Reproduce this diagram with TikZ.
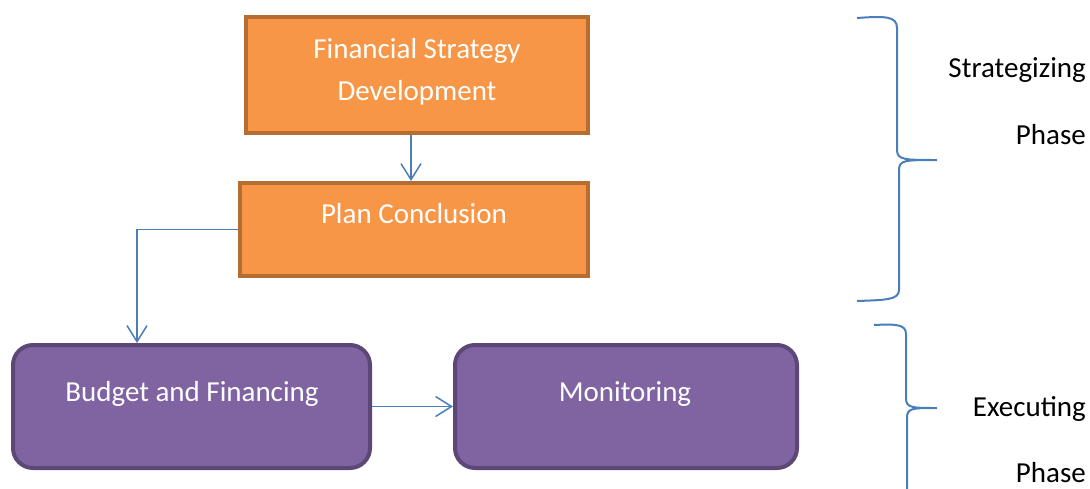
\documentclass[tikz,border=0pt]{standalone}
\usepackage{fontspec}
\setmainfont{Carlito}
\usetikzlibrary{arrows.meta}
\definecolor{orfill}{HTML}{F79646}
\definecolor{ordraw}{HTML}{B66D31}
\definecolor{pufill}{HTML}{8064A2}
\definecolor{pudraw}{HTML}{5C4776}
\definecolor{lnblue}{HTML}{4A7EBB}
\tikzset{
  orbox/.style={draw=ordraw, fill=orfill, line width=4pt, inner sep=0pt},
  pubox/.style={draw=pudraw, fill=pufill, line width=4pt, rounded corners=20pt, inner sep=0pt},
  wtxt/.style={text=white, font=\fontsize{29}{35}\selectfont, inner sep=0pt, anchor=base},
  btxt/.style={text=black, font=\fontsize{29}{35}\selectfont, inner sep=0pt, anchor=base east},
  arr/.style={draw=lnblue, line width=1.5pt, -{Straight Barb[length=16pt,width=20pt,line width=1.5pt]}},
  brace/.style={draw=lnblue, line width=2pt}
}
\begin{document}
\begin{tikzpicture}[x=1pt,y=-1pt]
\useasboundingbox (0,0) rectangle (1090,488);
% boxes
\node[orbox, minimum width=342pt, minimum height=116pt] (fsd) at (417,75) {};
\node[orbox, minimum width=348pt, minimum height=93pt] (pc) at (414,229.5) {};
\node[pubox, minimum width=357pt, minimum height=123pt] (bf) at (191.5,406.5) {};
\node[pubox, minimum width=342pt, minimum height=123pt] (mon) at (626,406.5) {};
% texts
\node[wtxt] (t1) at (417,58) {Financial Strategy};
\node[wtxt] (t2) at (417,100) {Development};
\node[wtxt] (t3) at (414,223) {Plan Conclusion};
\node[wtxt] (t4) at (192,401) {Budget and Financing};
\node[wtxt] (t5) at (625,401) {Monitoring};
% connectors
\draw[arr] (fsd.south -| 411,0) -- (pc.north -| 411,0);
\draw[arr] (pc.west) -| ([xshift=126pt]bf.north west);
\draw[arr] (bf.east) -- (mon.west);
% braces
\draw[brace] (857,18) .. controls (885,16) and (897,16) .. (897,28)
  -- (897,150) .. controls (897,160) and (905,160) .. (937,160)
  .. controls (905,160) and (899,160) .. (899,170)
  -- (899,290) .. controls (899,300) and (885,300) .. (857,301);
\draw[brace] (874,325) .. controls (895,324) and (906,324) .. (906,334)
  -- (906,398) .. controls (906,408) and (912,408) .. (937,408)
  .. controls (912,408) and (907,408) .. (907,418)
  -- (907,490);
% labels
\node[btxt] (l1) at (1086,77) {Strategizing};
\node[btxt] (l2) at (1086,144) {Phase};
\node[btxt] (l3) at (1086,416) {Executing};
\node[btxt] (l4) at (1086,482) {Phase};
\end{tikzpicture}
\end{document}
